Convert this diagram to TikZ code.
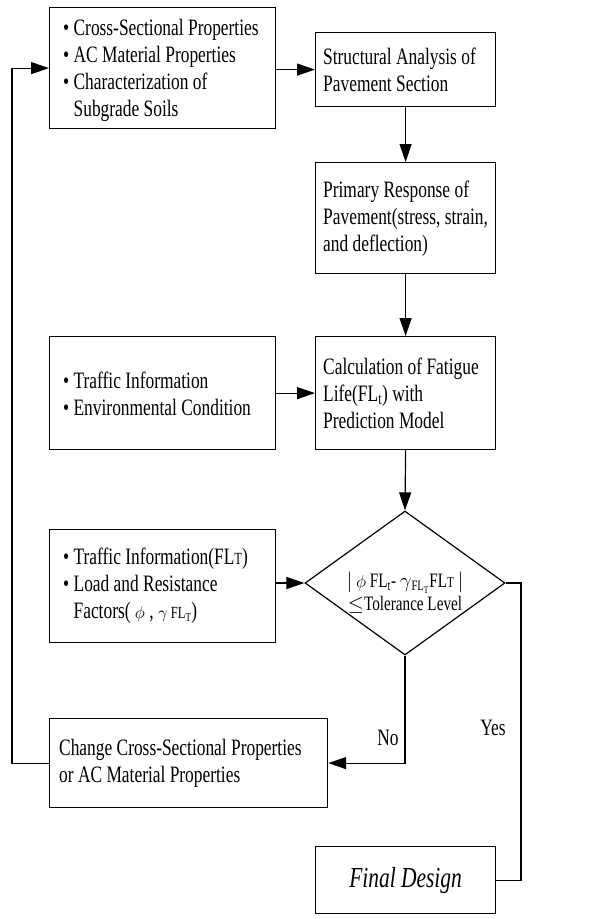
\documentclass[tikz,border=0pt]{standalone}
\usepackage{fontspec}
\setmainfont{Liberation Serif}[FakeStretch=0.74]
\usetikzlibrary{arrows.meta,shapes.geometric}
\begin{document}
\begin{tikzpicture}[x=1pt,y=-1pt,
  box/.style={draw,line width=1.2pt,anchor=north west,inner sep=0pt},
  txt/.style={anchor=west,inner sep=0pt,align=left,font=\fontsize{23.5}{27}\selectfont},
  dtxt/.style={inner sep=0pt,align=center,font=\fontsize{20.5}{23}\selectfont},
  lbl/.style={inner sep=0pt,font=\fontsize{23.5}{27}\selectfont},
  conn/.style={line width=1.2pt},
  arr/.style={line width=1.2pt,-{Triangle[length=18pt,width=12pt]}}]
\useasboundingbox (0,0) rectangle (611,919);
% boxes
\node[box,minimum width=226pt,minimum height=121pt] (b1) at (49,7) {};
\node[box,minimum width=180pt,minimum height=74pt] (b2) at (315,32) {};
\node[box,minimum width=180pt,minimum height=111pt] (b3) at (315,162) {};
\node[box,minimum width=226pt,minimum height=113pt] (b4) at (49,336) {};
\node[box,minimum width=180pt,minimum height=113pt] (b5) at (315,336) {};
\node[box,minimum width=226pt,minimum height=113pt] (b6) at (49,529) {};
\node[box,minimum width=278pt,minimum height=89pt] (b7) at (49,718) {};
\node[box,minimum width=180pt,minimum height=67pt] (fin) at (315,846) {};
\node[draw,line width=1.2pt,diamond,minimum width=200pt,minimum height=144pt,inner sep=0pt] (dec) at (405,583) {};
% texts
\node[txt] (t1) at (63,70) {\textbullet\ Cross-Sectional Properties\\\textbullet\ AC Material Properties\\\textbullet\ Characterization of\\\phantom{\textbullet\ }Subgrade Soils};
\node[txt] (t2) at (323,70) {Structural Analysis of\\Pavement Section};
\node[txt] (t3) at (323,219) {Primary Response of\\Pavement(stress, strain,\\and deflection)};
\node[txt] (t4) at (63,394) {\textbullet\ Traffic Information\\\textbullet\ Environmental Condition};
\node[txt] (t5) at (323,393) {Calculation of Fatigue\\Life(FL\textsubscript{t}) with\\Prediction Model};
\node[txt] (t6) at (63,586) {\textbullet\ Traffic Information(FL{\fontsize{17}{17}\selectfont T})\\\textbullet\ Load and Resistance\\\phantom{\textbullet\ }Factors( {\fontsize{17}{17}\selectfont$\phi$} , {\fontsize{17}{17}\selectfont$\gamma$ FL\textsubscript{T}})};
\node[txt] (t7) at (59,763) {Change Cross-Sectional Properties\\or AC Material Properties};
\node[inner sep=0pt,font=\fontsize{29}{32}\selectfont\itshape] (t8) at (fin.center) {Final Design};
\node[dtxt] (td) at (405,593) {$|$ {\fontsize{17}{17}\selectfont$\phi$} FL\textsubscript{t}- $\gamma$\textsubscript{FL\textsubscript{T}}FL{\fontsize{15}{15}\selectfont T} $|$\\$\leq$Tolerance Level};
\node[lbl] (yes) at (493,728) {Yes};
\node[lbl] (no) at (388,738) {No};
% connectors
\coordinate (lx) at (12,0);
\coordinate (rx) at (521,0);
\draw[arr] (b1.east |- b2.west) -- (b2.west);
\draw[arr] (b2.south) -- (b3.north);
\draw[arr] (b3.south) -- (b5.north);
\draw[arr] (b4.east) -- (b5.west);
\draw[arr] (b5.south) -- (dec.north);
\draw[arr] (b6.east |- dec.west) -- (dec.west);
\draw[arr] (dec.south) |- (b7.east);
\draw[conn] (dec.east) -- (dec.east -| rx) |- (fin.east);
\draw[arr] (b7.west) -- (b7.west -| lx) |- (b1.west);
\end{tikzpicture}
\end{document}
